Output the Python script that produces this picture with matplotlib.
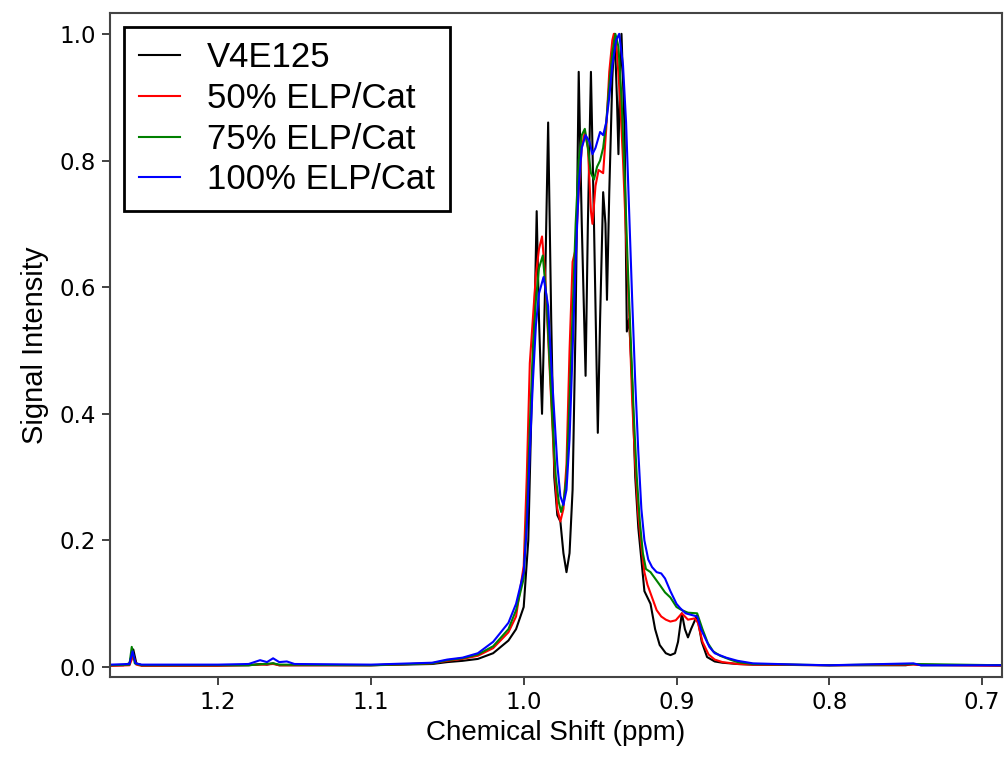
import matplotlib
matplotlib.use('Agg')
import matplotlib.pyplot as plt

# V4E125 (black)
ppm_v4 = [1.27, 1.262, 1.258, 1.2555, 1.2535, 1.25, 1.18, 1.172, 1.168, 1.164, 1.16, 1.10, 1.06, 1.05, 1.04,
          1.03, 1.02, 1.01, 1.005, 1.0, 0.997, 0.995, 0.9925, 0.9915, 0.990, 0.988, 0.986, 0.984, 0.982, 0.980,
          0.978, 0.976, 0.974, 0.972, 0.970, 0.968, 0.966, 0.964, 0.962, 0.9595, 0.958, 0.956, 0.954, 0.9515,
          0.950, 0.948, 0.9465, 0.9455, 0.944, 0.942, 0.9405, 0.939, 0.938, 0.937, 0.936, 0.934, 0.9325, 0.931,
          0.929, 0.927, 0.925, 0.923, 0.921, 0.919, 0.917, 0.914, 0.911, 0.907, 0.904, 0.901, 0.899, 0.8965,
          0.8945, 0.8925, 0.8905, 0.8865, 0.8835, 0.880, 0.875, 0.87, 0.86, 0.85, 0.80, 0.75, 0.745, 0.74, 0.687]
int_v4 = [0.003, 0.003, 0.006, 0.028, 0.006, 0.003, 0.003, 0.005, 0.004, 0.006, 0.003, 0.003, 0.005, 0.008, 0.010,
          0.013, 0.022, 0.042, 0.06, 0.095, 0.20, 0.40, 0.60, 0.72, 0.55, 0.40, 0.60, 0.86, 0.55, 0.30,
          0.24, 0.23, 0.18, 0.15, 0.18, 0.28, 0.55, 0.94, 0.70, 0.46, 0.70, 0.94, 0.70, 0.37,
          0.55, 0.75, 0.70, 0.58, 0.75, 0.93, 1.0, 0.90, 0.81, 0.93, 1.0, 0.85, 0.53, 0.55,
          0.45, 0.30, 0.22, 0.17, 0.12, 0.11, 0.10, 0.06, 0.035, 0.022, 0.019, 0.022, 0.04, 0.085,
          0.06, 0.047, 0.06, 0.082, 0.04, 0.016, 0.009, 0.007, 0.005, 0.004, 0.003, 0.003, 0.005, 0.003, 0.003]

# 50% ELP/Cat (red)
ppm_50 = [1.27, 1.258, 1.2555, 1.2535, 1.25, 1.20, 1.17, 1.164, 1.16, 1.10, 1.06, 1.05, 1.04, 1.03, 1.02,
          1.01, 1.005, 1.0, 0.998, 0.996, 0.994, 0.992, 0.990, 0.988, 0.986, 0.984, 0.982, 0.980, 0.978,
          0.976, 0.974, 0.972, 0.970, 0.968, 0.966, 0.964, 0.962, 0.960, 0.958, 0.956, 0.955, 0.953, 0.951,
          0.948, 0.946, 0.944, 0.942, 0.941, 0.9395, 0.937, 0.935, 0.933, 0.931, 0.929, 0.927, 0.925, 0.923,
          0.921, 0.919, 0.916, 0.913, 0.910, 0.907, 0.904, 0.9005, 0.8965, 0.8925, 0.888, 0.886, 0.883, 0.879,
          0.875, 0.87, 0.86, 0.85, 0.80, 0.745, 0.687]
int_50 = [0.002, 0.003, 0.018, 0.004, 0.002, 0.002, 0.004, 0.005, 0.003, 0.003, 0.006, 0.010, 0.013, 0.018, 0.03,
          0.055, 0.08, 0.16, 0.30, 0.48, 0.55, 0.62, 0.66, 0.68, 0.62, 0.52, 0.42, 0.32, 0.25,
          0.23, 0.25, 0.32, 0.50, 0.64, 0.66, 0.75, 0.82, 0.845, 0.82, 0.72, 0.70, 0.76, 0.785,
          0.78, 0.85, 0.94, 0.99, 1.0, 0.99, 0.90, 0.80, 0.68, 0.56, 0.42, 0.32, 0.24, 0.19,
          0.15, 0.13, 0.11, 0.09, 0.08, 0.075, 0.072, 0.074, 0.085, 0.075, 0.077, 0.07, 0.04, 0.02,
          0.012, 0.008, 0.005, 0.004, 0.003, 0.004, 0.002]

# 75% ELP/Cat (green)
ppm_75 = [1.27, 1.258, 1.2565, 1.2545, 1.25, 1.18, 1.17, 1.164, 1.16, 1.10, 1.06, 1.05, 1.04, 1.03, 1.02,
          1.01, 1.005, 1.0, 0.998, 0.996, 0.994, 0.992, 0.990, 0.9875, 0.985, 0.983, 0.981, 0.979, 0.977,
          0.9755, 0.974, 0.972, 0.970, 0.968, 0.966, 0.964, 0.962, 0.960, 0.958, 0.956, 0.954, 0.952, 0.950,
          0.948, 0.946, 0.944, 0.942, 0.940, 0.938, 0.936, 0.934, 0.932, 0.930, 0.928, 0.926, 0.924, 0.922,
          0.920, 0.917, 0.914, 0.911, 0.9075, 0.904, 0.900, 0.8965, 0.8925, 0.8865, 0.883, 0.8795, 0.876,
          0.8715, 0.865, 0.86, 0.85, 0.80, 0.745, 0.687]
int_75 = [0.003, 0.004, 0.032, 0.006, 0.003, 0.003, 0.005, 0.006, 0.004, 0.003, 0.006, 0.011, 0.014, 0.02, 0.033,
          0.06, 0.09, 0.14, 0.24, 0.38, 0.50, 0.58, 0.63, 0.65, 0.58, 0.48, 0.38, 0.30, 0.26,
          0.245, 0.26, 0.30, 0.42, 0.56, 0.70, 0.80, 0.84, 0.85, 0.82, 0.78, 0.77, 0.79, 0.80,
          0.82, 0.86, 0.92, 0.97, 1.0, 0.98, 0.90, 0.78, 0.64, 0.52, 0.40, 0.30, 0.23, 0.18,
          0.155, 0.15, 0.14, 0.13, 0.118, 0.11, 0.095, 0.09, 0.086, 0.085, 0.06, 0.038, 0.025,
          0.018, 0.012, 0.008, 0.005, 0.003, 0.005, 0.003]

# 100% ELP/Cat (blue)
ppm_100 = [1.27, 1.258, 1.256, 1.254, 1.25, 1.20, 1.18, 1.1725, 1.168, 1.164, 1.16, 1.155, 1.15, 1.10, 1.06,
           1.05, 1.04, 1.03, 1.02, 1.01, 1.005, 1.0, 0.998, 0.996, 0.994, 0.992, 0.990, 0.987, 0.984, 0.982,
           0.980, 0.978, 0.976, 0.974, 0.972, 0.970, 0.968, 0.966, 0.964, 0.962, 0.9595, 0.957, 0.955, 0.953,
           0.950, 0.948, 0.946, 0.944, 0.942, 0.9395, 0.9375, 0.935, 0.933, 0.931, 0.929, 0.927, 0.925, 0.923,
           0.921, 0.9185, 0.916, 0.913, 0.910, 0.9075, 0.904, 0.900, 0.8975, 0.894, 0.8865, 0.884, 0.8785,
           0.875, 0.8675, 0.86, 0.85, 0.82, 0.80, 0.745, 0.74, 0.687]
int_100 = [0.004, 0.005, 0.025, 0.006, 0.004, 0.004, 0.005, 0.011, 0.008, 0.014, 0.008, 0.009, 0.005, 0.004, 0.007,
           0.012, 0.015, 0.022, 0.04, 0.07, 0.10, 0.15, 0.22, 0.34, 0.45, 0.54, 0.59, 0.616, 0.57, 0.48,
           0.40, 0.32, 0.27, 0.256, 0.28, 0.36, 0.50, 0.64, 0.76, 0.82, 0.84, 0.83, 0.81, 0.82,
           0.845, 0.84, 0.86, 0.90, 0.95, 0.99, 1.0, 0.95, 0.86, 0.72, 0.58, 0.45, 0.34, 0.25,
           0.20, 0.17, 0.158, 0.15, 0.148, 0.14, 0.12, 0.10, 0.093, 0.085, 0.08, 0.06, 0.032,
           0.022, 0.015, 0.01, 0.006, 0.004, 0.003, 0.006, 0.003, 0.003]

labels = ['V4E125', '50% ELP/Cat', '75% ELP/Cat', '100% ELP/Cat']
colors = ['black', 'red', 'green', 'blue']

fig = plt.figure(figsize=(10.05, 7.61), dpi=100)
ax = fig.add_axes([0.1095, 0.110, 0.8875, 0.873])

series = [(ppm_v4, int_v4), (ppm_50, int_50), (ppm_75, int_75), (ppm_100, int_100)]
for (x, y), lab, c in zip(series, labels, colors):
    ax.plot(x, y, '-', color=c, lw=1.5, label=lab)

ax.set_xlim(1.2707, 0.687)
ax.set_ylim(-0.016, 1.033)
ax.set_xticks([1.2, 1.1, 1.0, 0.9, 0.8, 0.7])
ax.set_yticks([0.0, 0.2, 0.4, 0.6, 0.8, 1.0])
ax.tick_params(labelsize=16.5, length=6, width=1.3, color='#333333', pad=4)
for s in ax.spines.values():
    s.set_color('#444444')
    s.set_linewidth(1.5)

ax.set_xlabel('Chemical Shift (ppm)', family='Liberation Sans', size=20, labelpad=4)
ax.set_ylabel('Signal Intensity', family='Liberation Sans', size=21, labelpad=8)

leg = ax.legend(loc='upper left', prop={'family': 'Liberation Sans', 'size': 25}, fancybox=False,
                framealpha=1, edgecolor='black', handlelength=1.2, handletextpad=0.78,
                labelspacing=0.22, borderaxespad=0.4, borderpad=0.42)
leg.get_frame().set_linewidth(2)

plt.savefig('out.png', dpi=100)
